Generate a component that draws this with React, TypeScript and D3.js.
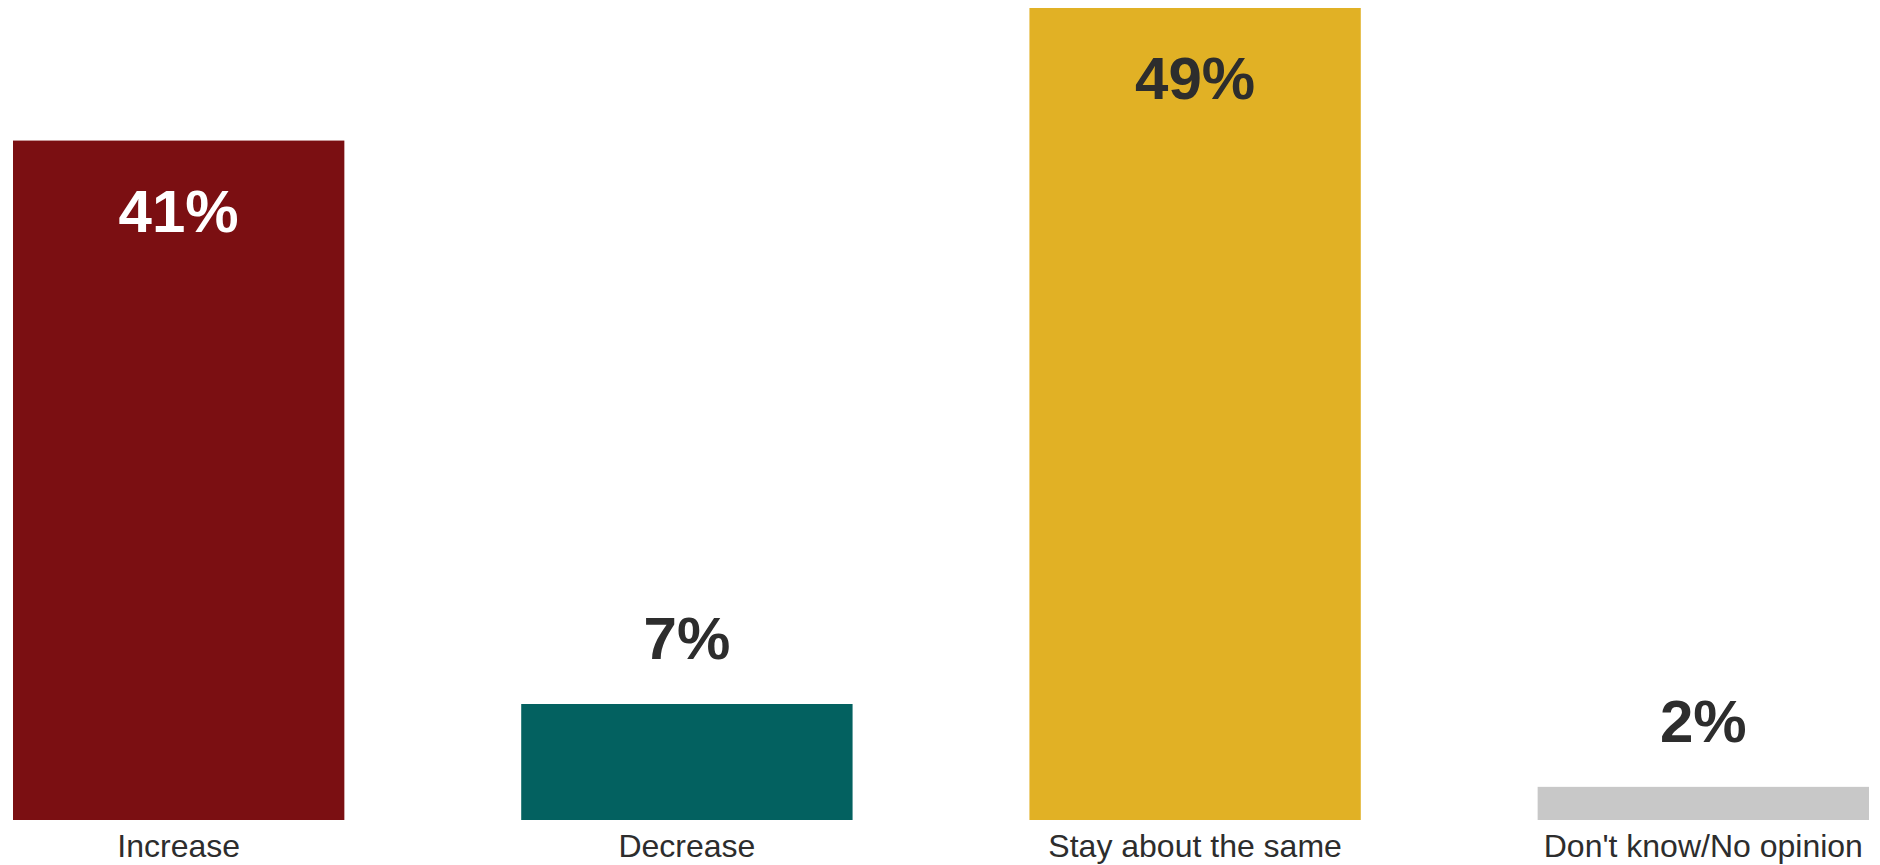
import React from "react";
import * as d3 from "d3";

const categories = ["Increase", "Decrease", "Stay about the same", "Don't know/No opinion"];
const values = [41, 7, 49, 2];
const colors = ["#7B0F12", "#036160", "#E1B125", "#C8C8C8"];
const labelColors = ["#FFFFFF", "#2D2D2D", "#2D2D2D", "#2D2D2D"];

const W = 1880;
const H = 865;

export default function App() {
  const x = d3.scaleBand<string>().domain(categories).range([13, 1869]).paddingInner(0.348).paddingOuter(0);
  const y = d3.scaleLinear().domain([0, 49]).range([820, 8]);
  const bw = x.bandwidth();
  const font = "'Liberation Sans', Arial, Helvetica, sans-serif";
  return (
    <svg width={W} height={H} style={{ position: "fixed", left: 0, top: 0, background: "#fff" }}>
      {categories.map((c, i) => {
        const v = values[i];
        const x0 = x(c) as number;
        const top = y(v);
        const inside = v > 20;
        const cx = x0 + bw / 2;
        return (
          <g key={c}>
            <rect x={x0} y={top} width={bw} height={y(0) - top} fill={colors[i]} />
            <text
              x={cx}
              y={inside ? top + 91 : top - 45}
              textAnchor="middle"
              fontFamily={font}
              fontWeight="bold"
              fontSize={60}
              fill={inside ? labelColors[i] : "#2D2D2D"}
            >
              {v}%
            </text>
            <text x={cx} y={857} textAnchor="middle" fontFamily={font} fontSize={32} fill="#2D2D2D">
              {c}
            </text>
          </g>
        );
      })}
    </svg>
  );
}
